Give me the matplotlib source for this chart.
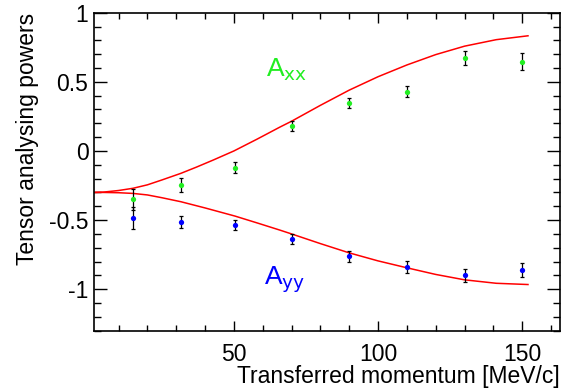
import matplotlib
matplotlib.use("Agg")
import matplotlib.pyplot as plt
from matplotlib.ticker import MultipleLocator

plt.rcParams["font.family"] = ["Liberation Sans", "DejaVu Sans"]

# measured points
q = [15, 31.6, 50.4, 70, 90, 110, 130, 150]
axx = [-0.35, -0.245, -0.12, 0.18, 0.35, 0.43, 0.67, 0.645]
axx_err = [0.075, 0.05, 0.04, 0.038, 0.036, 0.04, 0.05, 0.06]
ayy = [-0.485, -0.515, -0.535, -0.635, -0.76, -0.84, -0.90, -0.86]
ayy_err = [0.08, 0.045, 0.036, 0.037, 0.04, 0.043, 0.046, 0.048]

# theory curves
q_axx_th = [1.5, 5, 10, 15, 20, 25, 31.6, 37, 42.8, 50, 58, 65.9, 70, 80, 90,
            100, 110, 120, 130, 141, 152]
axx_th = [-0.30, -0.297, -0.286, -0.27, -0.245, -0.21, -0.162, -0.117, -0.066,
          0.0, 0.085, 0.172, 0.215, 0.33, 0.44, 0.537, 0.622, 0.697, 0.758,
          0.805, 0.833]
q_ayy_th = [1.5, 5, 10, 15, 20, 25, 31.6, 40, 50.4, 58, 65.9, 70, 80, 90, 100,
            110, 120, 130, 141, 152]
ayy_th = [-0.30, -0.30, -0.302, -0.307, -0.318, -0.338, -0.367, -0.412, -0.471,
          -0.52, -0.572, -0.60, -0.67, -0.737, -0.795, -0.845, -0.893, -0.932,
          -0.957, -0.966]

fig = plt.figure(figsize=(5.74, 3.91), dpi=100)
ax = fig.add_axes([0.1638, 0.1542, 0.9756 - 0.1638, 0.9675 - 0.1542])

ax.plot(q_axx_th, axx_th, color="red", lw=1.1, zorder=2)
ax.plot(q_ayy_th, ayy_th, color="red", lw=1.1, zorder=2)

ax.errorbar(q, axx, yerr=axx_err, fmt="none", ecolor="black", elinewidth=0.9,
            capsize=1.5, capthick=0.9, zorder=3)
ax.errorbar(q, ayy, yerr=ayy_err, fmt="none", ecolor="black", elinewidth=0.9,
            capsize=1.5, capthick=0.9, zorder=3)
ax.plot(q, axx, "o", color="#22ee22", ms=3.8, mec="none", zorder=4)
ax.plot(q, ayy, "o", color="#0000ff", ms=3.8, mec="none", zorder=4)

ax.text(61.3, 0.54, r"A$_{\rm xx}$", color="#22ee22", fontsize=19)
ax.text(60.3, -0.965, r"A$_{\rm yy}$", color="#0000ff", fontsize=19)

ax.set_xlim(1.5, 163.1)
ax.set_ylim(-1.3, 1.0)
ax.xaxis.set_major_locator(MultipleLocator(50))
ax.xaxis.set_minor_locator(MultipleLocator(10))
ax.yaxis.set_major_locator(MultipleLocator(0.5))
ax.yaxis.set_minor_locator(MultipleLocator(0.1))
ax.set_yticks([-1, -0.5, 0, 0.5, 1])
ax.set_yticklabels(["-1", "-0.5", "0", "0.5", "1"])

ax.tick_params(which="both", direction="in", top=True, right=True,
               labelsize=16.5, width=1)
ax.tick_params(axis="x", which="major", length=7.5, pad=9)
ax.tick_params(axis="x", which="minor", length=4.5)
ax.tick_params(axis="y", which="major", length=9.5, pad=4)
ax.tick_params(axis="y", which="minor", length=5)
for s in ax.spines.values():
    s.set_linewidth(1.2)

ax.set_xlabel("Transferred momentum [MeV/c]", fontsize=16.5, loc="right",
              labelpad=-1)
ax.set_ylabel("Tensor analysing powers", fontsize=16.5, loc="top",
              labelpad=7)

fig.savefig("out.png", dpi=100)
